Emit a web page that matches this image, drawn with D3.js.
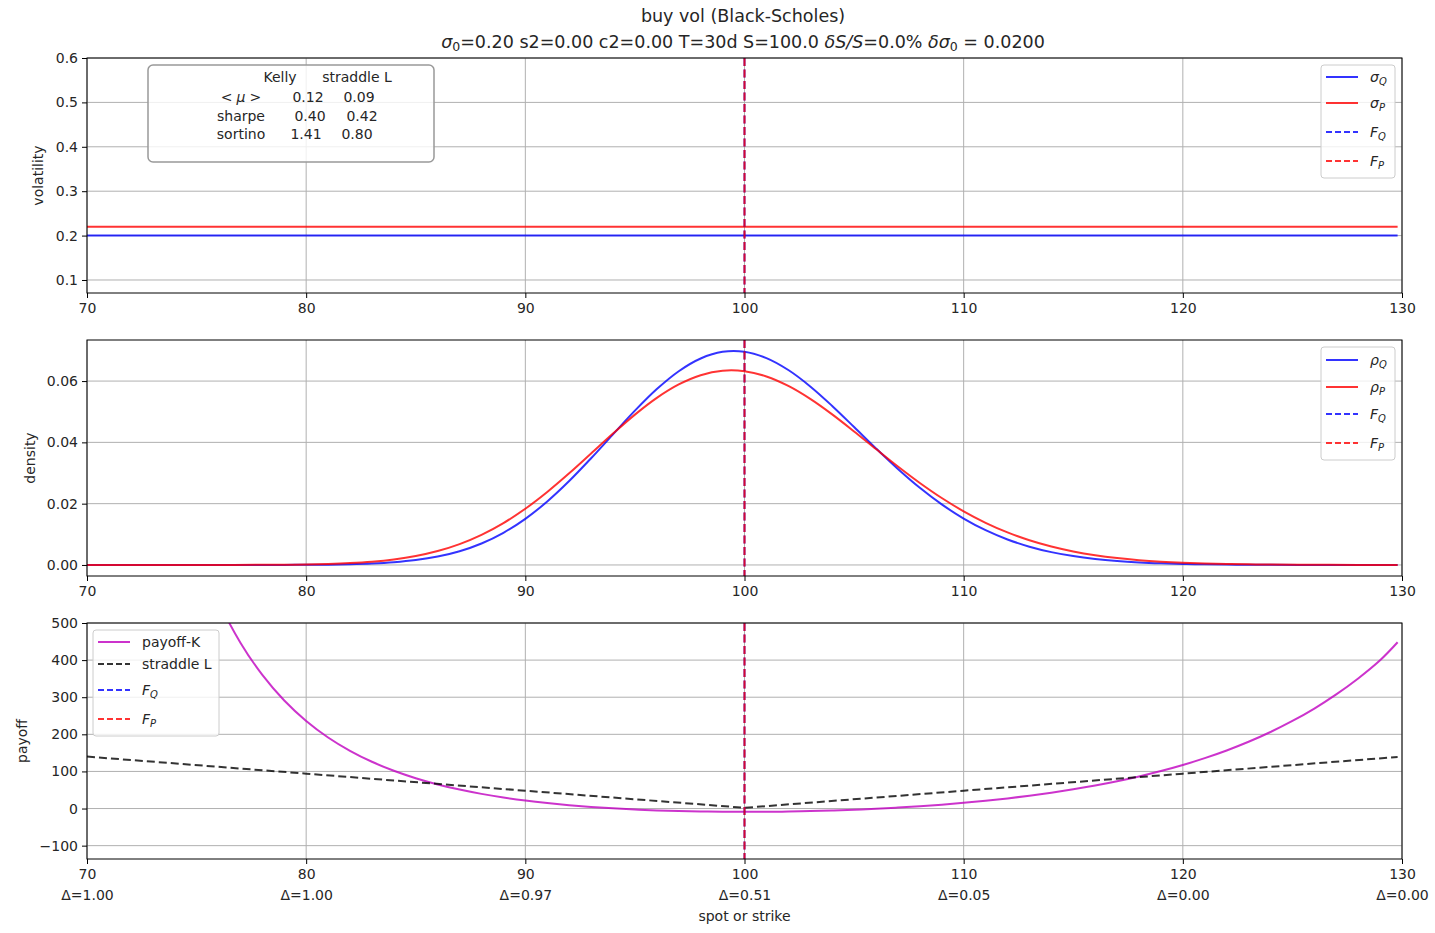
<!DOCTYPE html>
<html>
<head>
<meta charset="utf-8">
<script src="https://cdn.jsdelivr.net/npm/d3@7"></script>
<style>
  body { margin: 0; background: #fff; }
  svg { font-family: "DejaVu Sans", sans-serif; }
  .grid line { stroke: #b0b0b0; stroke-width: 1; }
  .axis path, .axis line { stroke: #000; }
  .axis text { fill: #262626; }
</style>
</head>
<body>
<svg id="chart" width="1435" height="933"></svg>
<script>
// ---- data ----
const xTicks = [70, 80, 90, 100, 110, 120, 130];
const deltaLabels = ["Δ=1.00", "Δ=1.00", "Δ=0.97", "Δ=0.51", "Δ=0.05", "Δ=0.00", "Δ=0.00"];

const volTicks = [0.1, 0.2, 0.3, 0.4, 0.5, 0.6];
const densityTicks = [0, 0.02, 0.04, 0.06];
const payoffTicks = [-100, 0, 100, 200, 300, 400, 500];

// implied vols (flat)
const volSpot = [70, 129.8];
const sigmaQ = [0.20, 0.20];
const sigmaP = [0.22, 0.22];

// forwards
const forwardQ = 100;
const forwardP = 100;

// densities
const densitySpot = [70, 74, 76, 78, 79, 80, 81, 82, 83, 84, 85, 86, 87, 88, 89, 90, 91, 92, 93, 94, 95,
  96, 97, 98, 99, 100, 101, 102, 103, 104, 105, 106, 107, 108, 109, 110, 111, 112, 113, 114, 115,
  116, 117, 118, 119, 120, 121, 122, 123, 124, 126, 128, 129.8];
const densityQ = [0, 0, 0, 0.0000085, 0.0000212, 0.00005, 0.000111, 0.000235, 0.000468, 0.000887, 0.001598,
  0.002742, 0.004489, 0.007019, 0.010503, 0.015057, 0.020713, 0.027375, 0.034811, 0.04263, 0.050342,
  0.057387, 0.063221, 0.067374, 0.069529, 0.069548, 0.067494, 0.063605, 0.058254, 0.051897, 0.045007,
  0.038025, 0.031323, 0.025174, 0.019752, 0.015144, 0.01135, 0.008321, 0.005971, 0.004197, 0.002893,
  0.001953, 0.001294, 0.000841, 0.000538, 0.000337, 0.000208, 0.000126, 0.0000752, 0.0000443, 0.0000145, 0, 0];
const densityP = [0, 0, 0.0000074, 0.0000392, 0.0000834, 0.000169, 0.000327, 0.000603, 0.001064, 0.0018, 0.002918,
  0.004545, 0.006807, 0.009821, 0.013662, 0.018346, 0.023812, 0.0299, 0.036364, 0.042874, 0.04905,
  0.054512, 0.058892, 0.061907, 0.063372, 0.06322, 0.061514, 0.058419, 0.054189, 0.049129, 0.043564,
  0.037808, 0.03213, 0.026756, 0.021844, 0.017494, 0.013753, 0.010616, 0.008052, 0.006003, 0.004402,
  0.003175, 0.002254, 0.001576, 0.001086, 0.000737, 0.000494, 0.000326, 0.000212, 0.000136, 0.0000544, 0.0000206, 0.0000075];

// payoffs
const payoffSpot = [75, 76, 77, 78, 79, 80, 81, 82, 83, 84, 85, 86, 87, 88, 89, 90, 91, 92, 93, 94, 95,
  96, 97, 98, 99, 100, 101, 102, 103, 104, 105, 106, 107, 108, 109, 110, 111, 112, 113, 114, 115,
  116, 117, 118, 119, 120, 121, 122, 123, 124, 125, 126, 127, 128, 129, 129.8];
const payoffK = [700, 558, 447, 360, 291, 236, 191.5, 155.5, 126, 101.8, 81.7, 65, 51.1, 39.5, 29.8, 21.6,
  14.8, 9.1, 4.4, 0.6, -2.5, -5, -6.8, -8, -8.8, -9, -8.8, -8.1, -6.9, -5.3, -3.2, -0.6, 2.6, 6.2, 10.5,
  15.4, 21, 27.3, 34.5, 42.6, 51.7, 61.9, 73.5, 86.5, 101, 117.4, 135.8, 156.5, 179.9, 206.3, 236, 269.5,
  307.6, 350.5, 399.4, 448];
const straddleSpot = [70, 80, 90, 100, 110, 120, 129.8];
const straddleL = [140, 94, 48, 2, 48, 94, 139];

// summary table
const statNames = ["<μ>", "sharpe", "sortino"];
const kellyStats = ["0.12", "0.40", "1.41"];
const straddleStats = ["0.09", "0.42", "0.80"];

// ---- layout ----
const svg = d3.select("#chart");
const x = d3.scaleLinear().domain([70, 130]).range([87, 1402]);
const BLUE = "#0000ff", RED = "#ff0000", MAG = "#bf00bf", BLACK = "#000";

const panels = [
  { top: 58, bottom: 293, domain: [0.0707, 0.6], ticks: volTicks, fmt: d3.format(".1f"), label: "volatility", labelX: 38 },
  { top: 340, bottom: 576, domain: [-0.0036, 0.0734], ticks: densityTicks, fmt: d3.format(".2f"), label: "density", labelX: 30 },
  { top: 623, bottom: 859, domain: [-136, 500], ticks: payoffTicks, fmt: d3.format("d"), label: "payoff", labelX: 22 }
];

panels.forEach((p, i) => {
  p.y = d3.scaleLinear().domain(p.domain).range([p.bottom, p.top]);
  p.g = svg.append("g");
  svg.append("clipPath").attr("id", "clip" + i)
    .append("rect").attr("x", x.range()[0]).attr("y", p.top)
    .attr("width", x.range()[1] - x.range()[0]).attr("height", p.bottom - p.top);

  // grid
  const grid = p.g.append("g").attr("class", "grid");
  grid.selectAll(".gx").data(xTicks).join("line")
    .attr("x1", d => x(d)).attr("x2", d => x(d)).attr("y1", p.top).attr("y2", p.bottom);
  grid.selectAll(".gy").data(p.ticks).join("line")
    .attr("x1", x.range()[0]).attr("x2", x.range()[1]).attr("y1", d => p.y(d)).attr("y2", d => p.y(d));

  p.plot = p.g.append("g").attr("clip-path", `url(#clip${i})`);

  // axes
  const ax = p.g.append("g").attr("class", "axis")
    .attr("transform", `translate(0,${p.bottom})`)
    .call(d3.axisBottom(x).tickValues(xTicks).tickSize(5).tickPadding(5).tickSizeOuter(0));
  const ay = p.g.append("g").attr("class", "axis")
    .attr("transform", `translate(${x.range()[0]},0)`)
    .call(d3.axisLeft(p.y).tickValues(p.ticks).tickFormat(p.fmt).tickSize(5).tickPadding(4).tickSizeOuter(0));
  [ax, ay].forEach(a => a.attr("font-size", 14).attr("font-family", null));
  ax.select(".domain").remove();
  ay.select(".domain").remove();

  p.g.append("rect")
    .attr("x", x.range()[0]).attr("y", p.top)
    .attr("width", x.range()[1] - x.range()[0]).attr("height", p.bottom - p.top)
    .attr("fill", "none").attr("stroke", "#000").attr("stroke-width", 1);

  p.g.append("text")
    .attr("transform", `translate(${p.labelX},${(p.top + p.bottom) / 2}) rotate(-90)`)
    .attr("text-anchor", "middle").attr("dy", "0.35em")
    .attr("font-size", 14).attr("fill", "#262626")
    .text(p.label);
  p.xAxis = ax;
});

function drawLine(p, xs, ys, color, opts = {}) {
  const line = d3.line().x(d => x(d[0])).y(d => p.y(d[1])).curve(opts.curve || d3.curveLinear);
  p.plot.append("path")
    .datum(xs.map((v, i) => [v, ys[i]]))
    .attr("d", line)
    .attr("fill", "none")
    .attr("stroke", color)
    .attr("stroke-opacity", 0.8)
    .attr("stroke-width", 2)
    .attr("stroke-dasharray", opts.dash || null);
}

function drawForwards(p) {
  [[forwardQ, BLUE], [forwardP, RED]].forEach(([f, c]) => {
    p.plot.append("line")
      .attr("x1", x(f)).attr("x2", x(f)).attr("y1", p.top).attr("y2", p.bottom)
      .attr("stroke", c).attr("stroke-opacity", 0.8).attr("stroke-width", 2)
      .attr("stroke-dasharray", "8,3.5");
  });
}

// panel 1: volatility
drawLine(panels[0], volSpot, sigmaQ, BLUE);
drawLine(panels[0], volSpot, sigmaP, RED);
drawForwards(panels[0]);

// panel 2: density
drawLine(panels[1], densitySpot, densityQ, BLUE, { curve: d3.curveCatmullRom });
drawLine(panels[1], densitySpot, densityP, RED, { curve: d3.curveCatmullRom });
drawForwards(panels[1]);

// panel 3: payoff
drawLine(panels[2], payoffSpot, payoffK, MAG, { curve: d3.curveCatmullRom });
drawLine(panels[2], straddleSpot, straddleL, BLACK, { dash: "8,4" });
drawForwards(panels[2]);

// delta labels + x label under bottom panel
panels[2].xAxis.selectAll(".tick").append("text")
  .attr("fill", "#262626").attr("y", 31).attr("dy", "0.71em")
  .text((d, i) => deltaLabels[i]);
svg.append("text").attr("x", x(100)).attr("y", 916).attr("dy", "0.35em")
  .attr("text-anchor", "middle").attr("font-size", 14).attr("fill", "#262626")
  .text("spot or strike");

// ---- title ----
svg.append("text").attr("x", 743).attr("y", 16).attr("dy", "0.35em")
  .attr("text-anchor", "middle").attr("font-size", 17.5).attr("fill", "#262626")
  .text("buy vol (Black-Scholes)");
const t2 = svg.append("text").attr("x", 743).attr("y", 42).attr("dy", "0.35em")
  .attr("text-anchor", "middle").attr("font-size", 17.5).attr("fill", "#262626");
[
  ["σ", "it"], ["0", "sub"], ["=0.20 s2=0.00 c2=0.00 T=30d S=100.0 ", ""],
  ["δS/S", "it"], ["=0.0% ", ""], ["δσ", "it"], ["0", "sub"], [" = 0.0200", ""]
].forEach(([s, k]) => {
  const ts = t2.append("tspan").text(s);
  if (k === "it") ts.attr("font-style", "italic");
  if (k === "sub") ts.attr("font-size", 12.5).attr("baseline-shift", "-25%");
});

// ---- math-style label helper ----
function mathLabel(sel, base, sub) {
  sel.append("tspan").attr("font-style", "italic").text(base);
  sel.append("tspan").attr("font-style", "italic").attr("font-size", 10)
    .attr("baseline-shift", "-25%").text(sub);
}

// ---- legends ----
function legend(x0, y0, w, h, entries, rowY) {
  const g = svg.append("g");
  g.append("rect").attr("x", x0).attr("y", y0).attr("width", w).attr("height", h)
    .attr("rx", 3).attr("fill", "#fff").attr("fill-opacity", 0.8)
    .attr("stroke", "#ccc").attr("stroke-width", 1);
  entries.forEach((e, i) => {
    const yy = rowY[i];
    g.append("line").attr("x1", x0 + 5).attr("x2", x0 + 37).attr("y1", yy).attr("y2", yy)
      .attr("stroke", e.color).attr("stroke-opacity", 0.8).attr("stroke-width", 2)
      .attr("stroke-dasharray", e.dash ? "6,3" : null);
    const t = g.append("text").attr("x", x0 + 49).attr("y", yy).attr("dy", "0.35em")
      .attr("font-size", 14).attr("fill", "#262626");
    if (e.sub) mathLabel(t, e.base, e.sub); else t.text(e.base);
  });
}

const fwdEntries = [
  { base: "F", sub: "Q", color: BLUE, dash: true },
  { base: "F", sub: "P", color: RED, dash: true }
];
legend(1321, 65, 74, 113, [
  { base: "σ", sub: "Q", color: BLUE }, { base: "σ", sub: "P", color: RED }, ...fwdEntries
], [77, 103, 132, 161]);
legend(1321, 347, 74, 113, [
  { base: "ρ", sub: "Q", color: BLUE }, { base: "ρ", sub: "P", color: RED }, ...fwdEntries
], [360, 387, 414, 443]);
legend(93, 630, 126, 106, [
  { base: "payoff-K", color: MAG }, { base: "straddle L", color: BLACK, dash: true }, ...fwdEntries
], [642, 664, 690, 719]);

// ---- stats box ----
const box = svg.append("g");
box.append("rect").attr("x", 148).attr("y", 65).attr("width", 286).attr("height", 97)
  .attr("rx", 5).attr("fill", "#fff").attr("fill-opacity", 0.8)
  .attr("stroke", "#999").attr("stroke-width", 1.5);
const bt = (tx, ty, s) => box.append("text").attr("x", tx).attr("y", ty).attr("dy", "0.35em")
  .attr("text-anchor", "middle").attr("font-size", 14).attr("fill", "#262626").text(s);
bt(280, 77, "Kelly");
bt(357, 77, "straddle L");
const rowYs = [97, 116, 134];
const kellyX = [308, 310, 306];
const strX = [359, 362, 357];
statNames.forEach((n, i) => {
  if (n === "<μ>") {
    const t = bt(241, rowYs[i], "");
    t.append("tspan").text("<");
    t.append("tspan").attr("font-style", "italic").attr("dx", 4).text("μ");
    t.append("tspan").attr("dx", 4).text(">");
  } else {
    bt(241, rowYs[i], n);
  }
  bt(kellyX[i], rowYs[i], kellyStats[i]);
  bt(strX[i], rowYs[i], straddleStats[i]);
});
</script>
</body>
</html>
